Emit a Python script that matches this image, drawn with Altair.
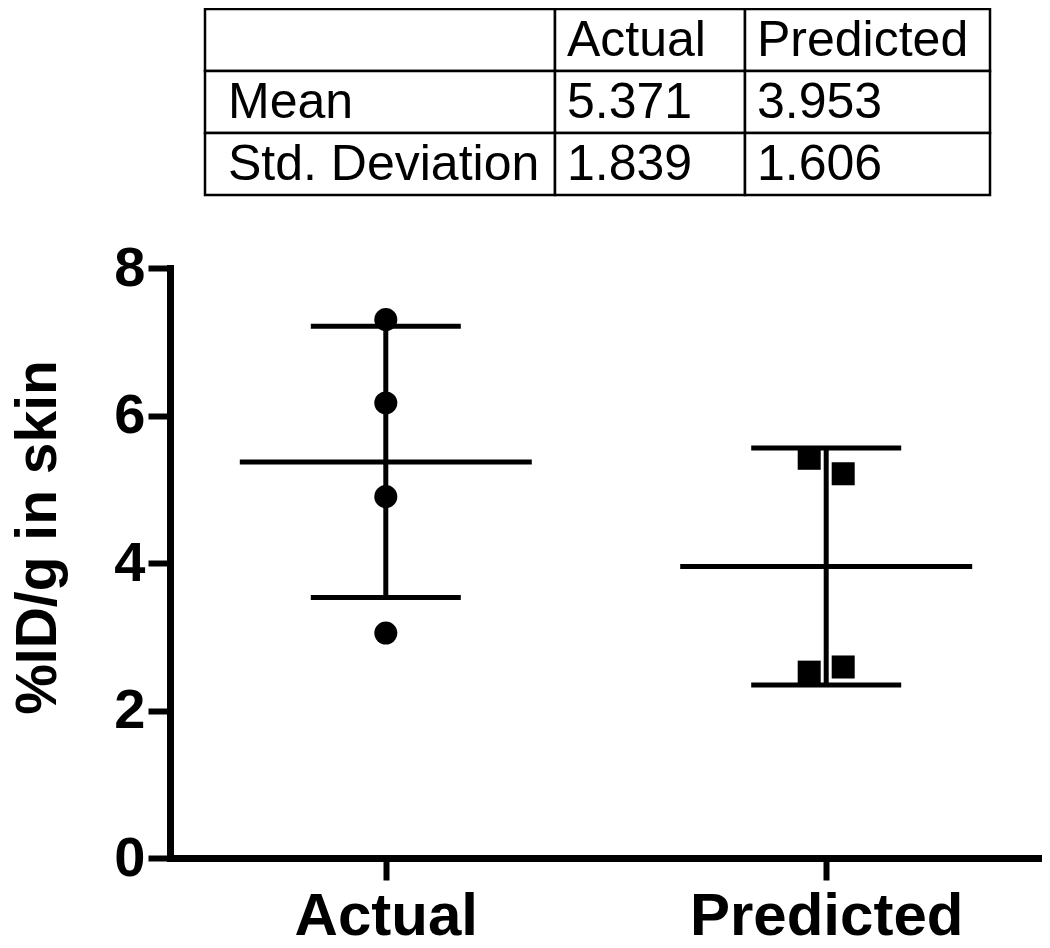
import altair as alt
import pandas as pd

# ---- data ----
groups = ["Actual", "Predicted"]
actual_values = [7.30, 6.17, 4.90, 3.05]
actual_side = [0, 0, 0, 0]
predicted_values = [5.42, 5.21, 2.52, 2.59]
predicted_side = [-1, 1, -1, 1]
means = [5.371, 3.953]
sds = [1.839, 1.606]

table_row_labels = ["", "Mean", "Std. Deviation"]
table_col_labels = ["", "Actual", "Predicted"]
col_widths = [350, 190, 245]  # relative column widths of the summary table

FONT = "Liberation Sans"

points = pd.DataFrame({
    "group": ["Actual"] * len(actual_values) + ["Predicted"] * len(predicted_values),
    "value": actual_values + predicted_values,
    "side": actual_side + predicted_side,
})
summary = pd.DataFrame({"group": groups, "mean": means, "sd": sds})

# table cells
cells = []
edges = [0]
for w in col_widths:
    edges.append(edges[-1] + w)
for r, rl in enumerate(table_row_labels):
    for c in range(3):
        if r == 0:
            txt = table_col_labels[c]
        elif c == 0:
            txt = rl
        else:
            v = means[c - 1] if r == 1 else sds[c - 1]
            txt = f"{v:.3f}"
        cells.append({"row": r, "col": c, "x0": edges[c], "x1": edges[c + 1],
                      "text": txt, "first": c == 0})
cells = pd.DataFrame(cells)

# ---- main plot ----
xenc = alt.X("group:N", sort=groups, scale=alt.Scale(type="point", padding=0.49),
             axis=alt.Axis(title=None, labelAngle=0, labelFont=FONT, labelFontSize=60,
                           labelFontWeight="bold", labelColor="black", labelPadding=7,
                           labelLimit=0, orient="bottom",
                           tickSize=22, tickWidth=6, tickColor="black", grid=False,
                           domainWidth=7, domainColor="black", domainCap="square"))
yscale = alt.Scale(domain=[0, 8], nice=False)
yaxis = alt.Axis(title="%ID/g in skin", values=[0, 2, 4, 6, 8], format="d", grid=False,
                 orient="left",
                 labelFont=FONT, labelFontSize=56, labelFontWeight="bold",
                 labelColor="black", labelPadding=3,
                 tickSize=22, tickWidth=6, tickColor="black",
                 domainWidth=7, domainColor="black", domainCap="square",
                 titleFont=FONT, titleFontSize=57, titleFontWeight="bold",
                 titleColor="black", titleAngle=270, titleX=-115, titleY=269,
                 titleAlign="center", titleBaseline="alphabetic")

base_sum = alt.Chart(summary).transform_calculate(
    lo="datum.mean - datum.sd", hi="datum.mean + datum.sd")

vline = base_sum.mark_rule(color="black", strokeWidth=5).encode(
    x=xenc, y=alt.Y("lo:Q", scale=yscale, axis=yaxis), y2="hi:Q")
cap_hi = base_sum.mark_tick(color="black", opacity=1, thickness=5, size=150).encode(
    x=alt.X("group:N", sort=groups), y=alt.Y("hi:Q"))
cap_lo = base_sum.mark_tick(color="black", opacity=1, thickness=5, size=150).encode(
    x=alt.X("group:N", sort=groups), y=alt.Y("lo:Q"))
mean_line = base_sum.mark_tick(color="black", opacity=1, thickness=5, size=292).encode(
    x=alt.X("group:N", sort=groups), y=alt.Y("mean:Q"))

pts = alt.Chart(points).mark_point(filled=True, color="black", size=530, opacity=1).encode(
    x=alt.X("group:N", sort=groups),
    xOffset=alt.XOffset("side:Q", scale=alt.Scale(domain=[-1, 1], range=[-17, 17])),
    y=alt.Y("value:Q"),
    shape=alt.Shape("group:N", scale=alt.Scale(domain=groups, range=["circle", "square"]),
                    legend=None),
)

main = alt.layer(vline, cap_hi, cap_lo, mean_line, pts)

# ---- summary table ----
tx = alt.Scale(domain=[0, edges[-1]], range=[35, 820])
ty = alt.Scale(domain=[0, 1, 2], range=[-259, -73], paddingInner=0, paddingOuter=0)

tbase = alt.Chart(cells)
trect = tbase.mark_rect(fill="white", stroke="black", strokeWidth=2.5).encode(
    x=alt.X("x0:Q", scale=tx, axis=None), x2="x1:Q",
    y=alt.Y("row:O", scale=ty, axis=None))
ttext_first = tbase.transform_filter("datum.first").mark_text(
    align="left", baseline="middle", dx=23, dy=1, font=FONT, fontSize=50, color="black").encode(
    x=alt.X("x0:Q", scale=tx, axis=None),
    y=alt.Y("row:O", scale=ty, axis=None), text="text:N")
ttext_other = tbase.transform_filter("!datum.first").mark_text(
    align="left", baseline="middle", dx=12, dy=1, font=FONT, fontSize=50, color="black").encode(
    x=alt.X("x0:Q", scale=tx, axis=None),
    y=alt.Y("row:O", scale=ty, axis=None), text="text:N")

table = alt.layer(trect, ttext_first, ttext_other)

chart = alt.layer(main, table).resolve_scale(
    x="independent", y="independent", shape="independent"
).resolve_axis(x="independent", y="independent").properties(
    width=872, height=590,
    padding={"left": 162, "top": 260, "right": 0, "bottom": 80},
    autosize=alt.AutoSizeParams(type="none"),
    view=alt.ViewBackground(stroke="transparent", strokeWidth=0, fill="transparent"),
).configure_view(stroke="transparent", strokeWidth=0).configure_axis(
    grid=False, gridOpacity=0
).configure_axisTop(disable=True).configure_axisRight(disable=True).configure(
    background="white")

chart.save("out.html", embed_options={"renderer": "svg", "actions": False})
